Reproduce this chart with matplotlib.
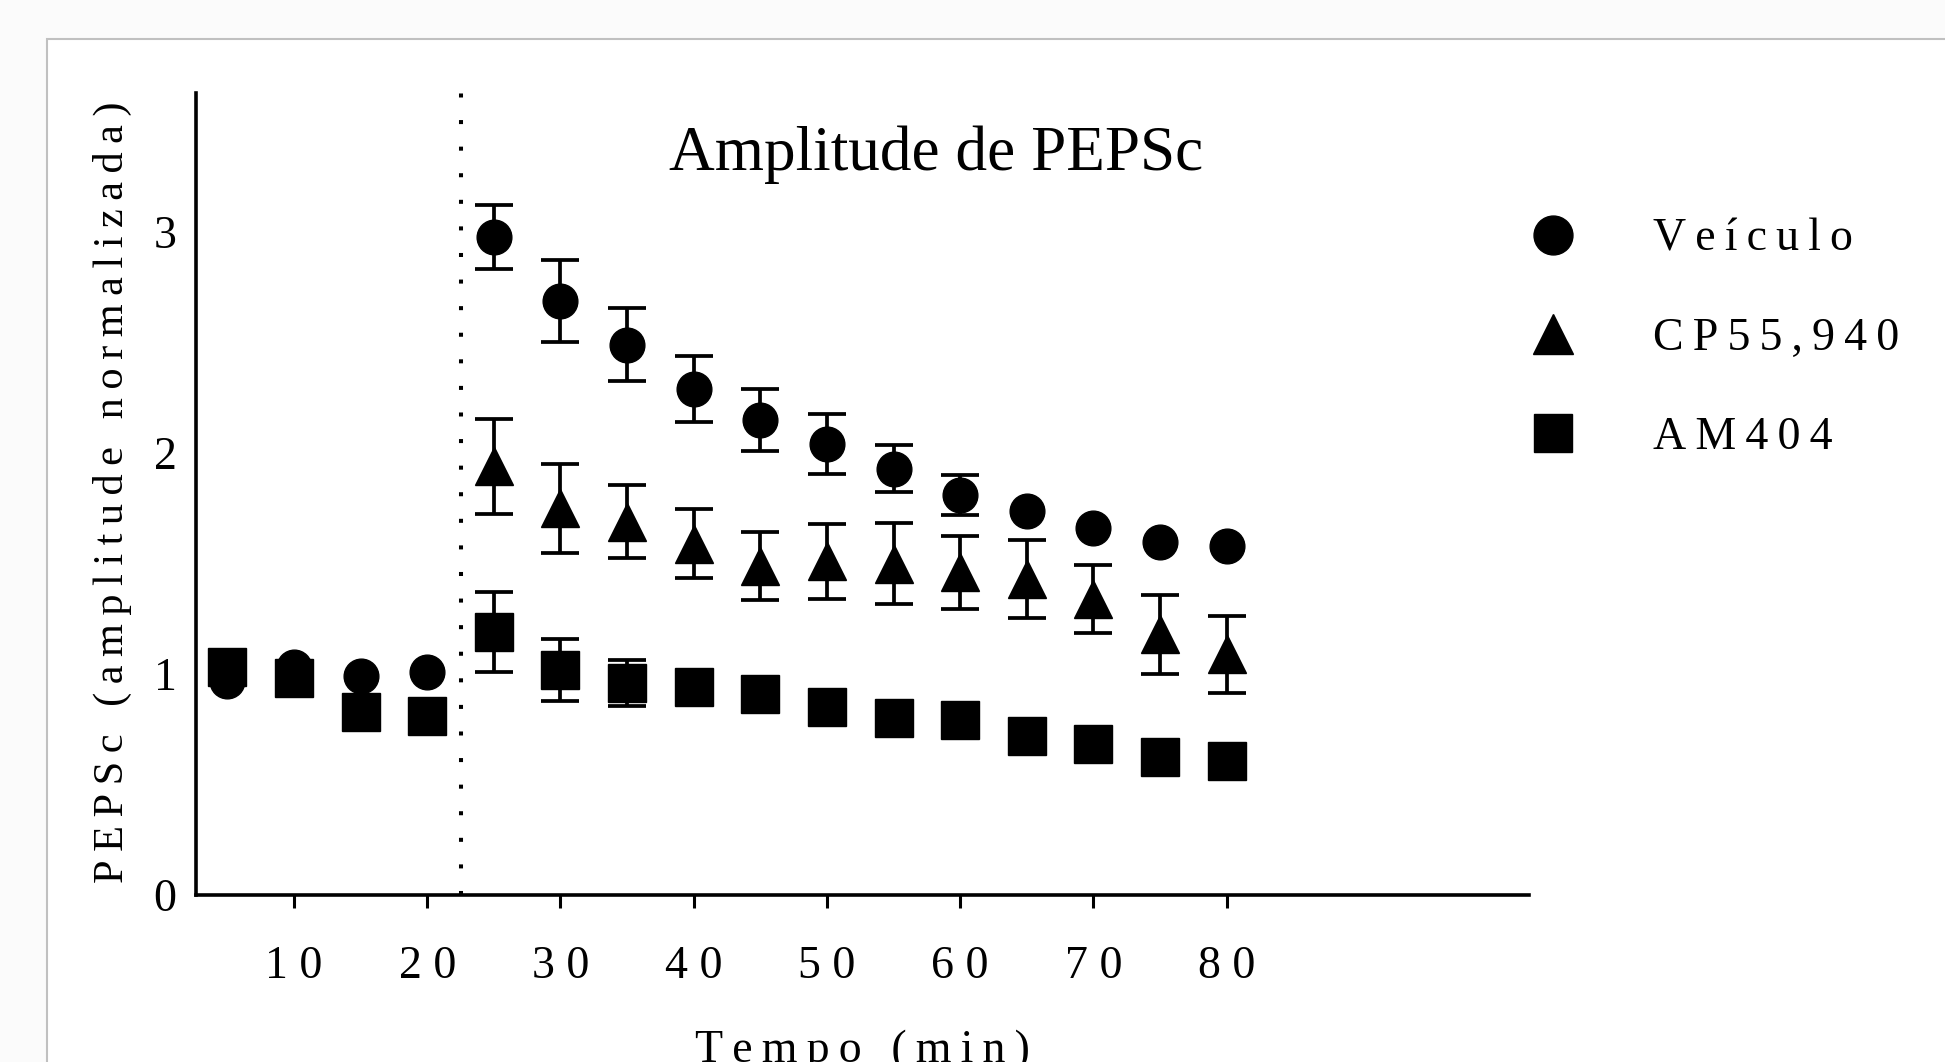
import numpy as np
import matplotlib
matplotlib.use("Agg")
import matplotlib.pyplot as plt
from matplotlib.lines import Line2D
from matplotlib.patches import Rectangle

plt.rcParams['font.family'] = ['Liberation Serif', 'DejaVu Serif']

nan = np.nan
# tempo (min)
tempo = [5, 10, 15, 20, 25, 30, 35, 40, 45, 50, 55, 60, 65, 70, 75, 80]
tempo_cp = [25, 30, 35, 40, 45, 50, 55, 60, 65, 70, 75, 80]

veiculo = [0.97, 1.03, 0.99, 1.01, 2.98, 2.69, 2.49, 2.29, 2.15, 2.04, 1.93, 1.81, 1.74, 1.66, 1.60, 1.58]
veiculo_sem = [nan, nan, nan, nan, 0.145, 0.185, 0.165, 0.15, 0.14, 0.135, 0.105, 0.09, nan, nan, nan, nan]

cp55940 = [1.94, 1.75, 1.69, 1.59, 1.49, 1.51, 1.50, 1.46, 1.43, 1.34, 1.18, 1.09]
cp55940_sem = [0.215, 0.2, 0.165, 0.155, 0.155, 0.17, 0.185, 0.165, 0.175, 0.155, 0.18, 0.175]

am404 = [1.03, 0.98, 0.83, 0.81, 1.19, 1.02, 0.96, 0.94, 0.91, 0.85, 0.80, 0.79, 0.72, 0.685, 0.625, 0.605]
am404_sem = [nan, nan, nan, nan, 0.18, 0.14, 0.105, nan, nan, nan, nan, nan, nan, nan, nan, nan]

xticks = [10, 20, 30, 40, 50, 60, 70, 80]
yticks = [0, 1, 2, 3]
drug_on = 22.5

W, H = 1945, 1062
fig = plt.figure(figsize=(W / 100, H / 100), dpi=100, facecolor='#fbfbfb')
# white panel with grey border (top / left)
panel = Rectangle((47 / W, -0.1), 1.2, 1 - 39 / H + 0.1, transform=fig.transFigure,
                  facecolor='white', edgecolor='#c0c0c0', lw=1.5, zorder=-5)
fig.add_artist(panel)

ax = fig.add_axes([196 / W, 1 - 895 / H, (1529 - 196) / W, (895 - 93) / H])
ax.set_zorder(2)
ax.set_facecolor('none')
ax.set_xlim(2.64, 102.7)
ax.set_ylim(0, 3.63)
for s in ['top', 'right']:
    ax.spines[s].set_visible(False)
for s in ['left', 'bottom']:
    ax.spines[s].set_linewidth(2.6)

def spaced(s, sep=' '):
    return sep.join(list(s))

ax.set_xticks(xticks)
ax.set_xticklabels([spaced(str(t)) for t in xticks], fontsize=33)
ax.set_yticks(yticks)
ax.set_yticklabels([str(t) for t in yticks], fontsize=33)
ax.tick_params(axis='x', length=9, width=2.2, pad=27, direction='out')
ax.tick_params(axis='y', length=0, pad=14)

ax.axvline(drug_on, color='black', lw=2.9, linestyle=(0, (1.0, 5.6)), dash_capstyle='butt')

kw = dict(color='black', capsize=14, capthick=2.7, elinewidth=2.7, linestyle='none')
ax.errorbar(tempo, am404, yerr=am404_sem, fmt='s', ms=27, **kw)
ax.errorbar(tempo_cp, cp55940, yerr=cp55940_sem, fmt='^', ms=28, **kw)
ax.errorbar(tempo, veiculo, yerr=veiculo_sem, fmt='o', ms=25, **kw)

ax.text(0.555, 0.904, 'Amplitude de PEPSc', transform=ax.transAxes, ha='center', va='baseline', fontsize=45.5)

fig.text(112 / W, 1 - 492 / H, spaced('PEPSc (amplitude normalizada)', '\u2009'), rotation=90,
         ha='center', va='center', fontsize=30.5)
fig.text(862 / W, 1 - 1029 / H, spaced('Tempo (min)', '\u2009'), ha='center', va='top', fontsize=33)

handles = [Line2D([], [], marker='o', color='black', ls='none', ms=28),
           Line2D([], [], marker='^', color='black', ls='none', ms=29),
           Line2D([], [], marker='s', color='black', ls='none', ms=28)]
labels = [spaced('Veículo', '\u2009'), spaced('CP55,940', '\u2009'), spaced('AM404', '\u2009')]
ax.legend(handles, labels, loc='center left', bbox_to_anchor=(1530 / W, 1 - 338.5 / H),
          bbox_transform=fig.transFigure, frameon=False, fontsize=33, handlelength=1.0,
          handletextpad=1.68, labelspacing=1.23, borderpad=0, borderaxespad=0)

fig.savefig('out.png', dpi=100, facecolor=fig.get_facecolor())
